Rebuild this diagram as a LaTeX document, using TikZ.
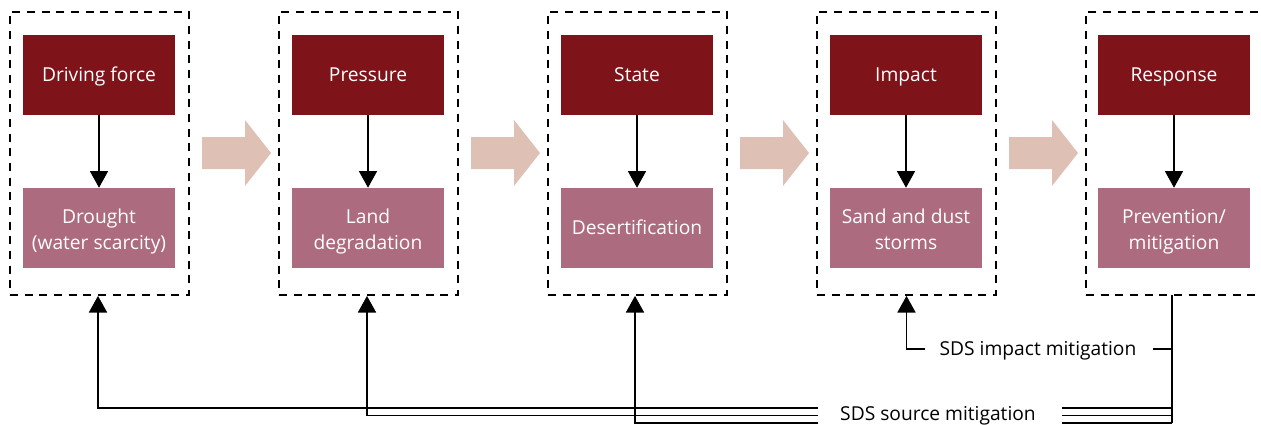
\documentclass[tikz,border=0pt]{standalone}
\usepackage{fontspec}
\setmainfont{Open Sans}
\usetikzlibrary{arrows.meta}
\definecolor{darkred}{RGB}{126,20,26}
\definecolor{rose}{RGB}{173,107,128}
\definecolor{peach}{RGB}{222,192,180}
\tikzset{
  frame/.style={draw, dash pattern=on 6pt off 5pt, line width=1.3pt, minimum width=134.25pt, minimum height=212.25pt, inner sep=0pt},
  box/.style={text=white, minimum width=114pt, minimum height=60pt, inner sep=0pt, align=center, font=\fontsize{14.4}{19.5}\selectfont},
  topbox/.style={box, fill=darkred},
  lowbox/.style={box, fill=rose},
  oneline/.style={text height=14pt, text depth=4pt},
  twoline/.style={text height=34.5pt, text depth=3pt},
  link/.style={line width=1.3pt, -{Triangle[width=13.5pt,length=12.5pt]}},
  feed/.style={line width=1.3pt},
  tag/.style={oneline, inner sep=0.75pt, font=\fontsize{14.4}{17}\selectfont}
}
\begin{document}
\begin{tikzpicture}[x=0.75pt,y=0.75pt,yscale=-1,xscale=1]
\useasboundingbox (0,0) rectangle (1261,425);
% dashed frames
\node [frame] (f1) at (99.5,153.5) {};
\node [frame] (f2) at (368.5,153.5) {};
\node [frame] (f3) at (637.5,153.5) {};
\node [frame] (f4) at (906.5,153.5) {};
\node [frame] (f5) at (1175.5,153.5) {};
% upper boxes
\node [topbox,oneline] (d1) at (99,75) {Driving force};
\node [topbox,oneline] (d2) at (368,75) {Pressure};
\node [topbox,oneline] (d3) at (637,75) {State};
\node [topbox,oneline] (d4) at (906,75) {Impact};
\node [topbox,oneline] (d5) at (1174,75) {Response};
% lower boxes
\node [lowbox,twoline] (l1) at (99,228) {Drought\\(water scarcity)};
\node [lowbox,twoline] (l2) at (368,228) {Land\\degradation};
\node [lowbox,oneline] (l3) at (637,228) {Desertification};
\node [lowbox,twoline] (l4) at (906,228) {Sand and dust\\storms};
\node [lowbox,twoline] (l5) at (1174,228) {Prevention/\\mitigation};
\draw [link] (d1) -- (l1);
\draw [link] (d2) -- (l2);
\draw [link] (d3) -- (l3);
\draw [link] (d4) -- (l4);
\draw [link] (d5) -- (l5);
% big arrows
\fill [peach] (202,137) -- (245,137) -- (245,120) -- (271,153) -- (245,186) -- (245,169) -- (202,169) -- cycle;
\fill [peach] (471,137) -- (514,137) -- (514,120) -- (540,153) -- (514,186) -- (514,169) -- (471,169) -- cycle;
\fill [peach] (740,137) -- (783,137) -- (783,120) -- (809,153) -- (783,186) -- (783,169) -- (740,169) -- cycle;
\fill [peach] (1009,137) -- (1052,137) -- (1052,120) -- (1078,153) -- (1052,186) -- (1052,169) -- (1009,169) -- cycle;
% labels
\node [tag] (src) at (938,414) {SDS source mitigation};
\node [tag] (imp) at (1038,349) {SDS impact mitigation};
% feedback lines
\coordinate (a1) at (818,408);
\coordinate (a2) at (818,415.5);
\coordinate (a3) at (818,423);
\coordinate (b1) at (1062,408);
\coordinate (b2) at (1062,415.5);
\coordinate (b3) at (1062,423);
\coordinate (r0) at (1172,295);
\coordinate (r1) at (1172,423);
\coordinate (i1) at (1153,349);
\coordinate (i2) at (925,349);
\draw [link] (a1) -| (f1.south -| 98,0);
\draw [link] (a2) -| (f2.south -| 367,0);
\draw [link] (a3) -| (f3.south -| 635,0);
\draw [link] (i2) -| (f4.south);
\draw [feed] (r0) -- (r1);
\draw [feed] (b1) -- (b1 -| r0);
\draw [feed] (b2) -- (b2 -| r0);
\draw [feed] (b3) -- (r1);
\draw [feed] (i1) -- (i1 -| r0);
\end{tikzpicture}
\end{document}
